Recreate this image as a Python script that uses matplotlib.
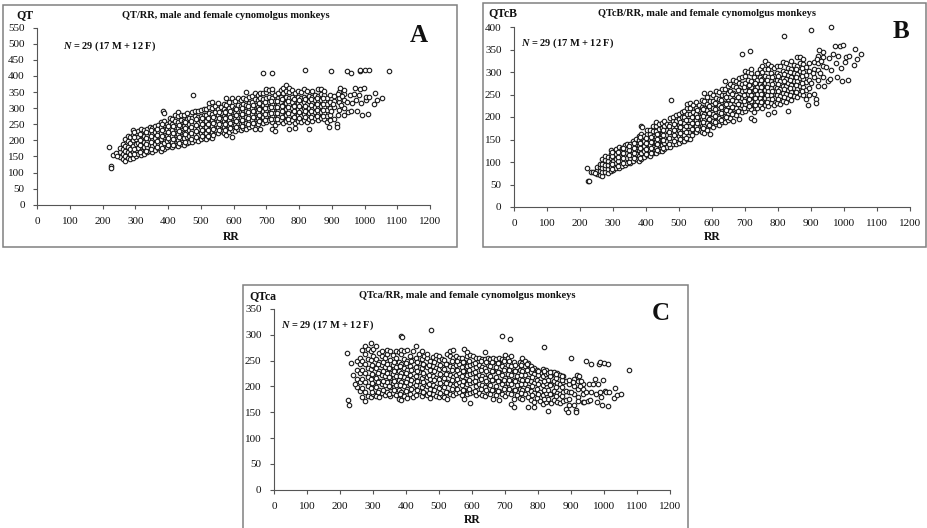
import numpy as np
import matplotlib
matplotlib.use('Agg')
import matplotlib.pyplot as plt
from matplotlib.patches import Rectangle

plt.rcParams['font.family'] = ['Liberation Serif', 'DejaVu Serif']

W, H = 927, 528

# RR columns shared by the three panels
rr_cols = [252, 261, 268, 277, 284, 293, 301, 309, 318, 326, 335, 343, 352, 361, 369, 378, 386, 395, 404,
           412, 421, 430, 438, 447, 456, 464, 473, 482, 490, 499, 508, 516, 525, 534, 542, 551, 560, 569,
           577, 586, 595, 604, 612, 621, 630, 639, 647, 656, 665, 674, 682, 691, 700, 709, 717, 726, 735,
           744, 752, 761, 770, 779, 788, 796, 805, 814, 823, 831, 840, 849, 858, 867, 876, 885]

qt_cols = [[148, 163, 176], [141, 157, 172, 189], [135, 150, 167, 183, 204], [146, 163, 178, 197, 215],
           [142, 158, 174, 192, 210], [146, 165, 181, 200, 218, 232], [152, 170, 188, 205, 224],
           [156, 175, 193, 211, 230], [153, 168, 186, 204, 222, 236], [159, 178, 196, 214, 232],
           [163, 180, 199, 217, 236], [167, 186, 204, 222, 241], [164, 183, 201, 220, 238],
           [170, 190, 208, 226, 244], [175, 193, 212, 230, 249], [168, 186, 205, 223, 242, 257],
           [172, 192, 210, 229, 247, 261], [178, 197, 215, 234, 252], [181, 200, 218, 237, 256, 270],
           [178, 196, 215, 233, 252, 266], [185, 205, 223, 242, 260, 278], [183, 201, 220, 238, 257, 275, 288],
           [189, 208, 226, 245, 263, 280], [187, 206, 224, 243, 261, 278], [192, 211, 229, 248, 266, 284],
           [196, 215, 233, 252, 270], [194, 213, 231, 250, 268, 287], [201, 220, 238, 257, 275, 290],
           [199, 218, 236, 255, 273, 292], [203, 222, 240, 259, 277, 293], [206, 225, 243, 262, 280, 296],
           [204, 223, 241, 260, 278, 297], [210, 229, 247, 266, 284, 303, 315], [208, 227, 245, 264, 282, 301, 318],
           [226, 233, 251, 270, 288, 307], [224, 242, 261, 279, 298, 316], [229, 248, 266, 285, 303],
           [222, 240, 259, 277, 296, 314], [216, 235, 254, 272, 291, 309, 333], [225, 244, 262, 281, 299, 318],
           [210, 232, 250, 269, 287, 306, 333], [228, 247, 265, 284, 302, 321], [236, 255, 273, 292, 310, 330],
           [232, 251, 269, 288, 306, 325], [238, 257, 275, 294, 312, 331], [236, 254, 273, 291, 310, 328, 350],
           [241, 260, 278, 297, 315, 334], [245, 264, 282, 301, 319, 338], [236, 255, 274, 292, 311, 329, 346],
           [250, 268, 287, 305, 324, 340], [236, 259, 277, 296, 314, 333, 346], [254, 272, 291, 309, 328, 347],
           [256, 275, 293, 312, 330, 349, 361], [262, 281, 299, 318, 336, 355], [234, 258, 277, 295, 314, 332, 351, 361],
           [228, 248, 266, 285, 303, 322, 340], [256, 274, 293, 311, 330, 348], [262, 281, 299, 318, 336, 355],
           [254, 272, 291, 309, 328, 346, 362], [260, 278, 297, 315, 334, 352, 372], [236, 256, 275, 293, 312, 330, 349, 362],
           [262, 281, 299, 318, 336, 355], [238, 254, 273, 291, 310, 328, 347], [260, 279, 297, 316, 334, 352],
           [256, 275, 293, 312, 330, 349], [262, 281, 299, 318, 336, 358], [258, 277, 295, 314, 332, 352],
           [234, 265, 284, 302, 321, 339], [260, 279, 297, 316, 334, 354], [268, 287, 305, 324, 342],
           [264, 283, 301, 320, 338, 360], [270, 288, 307, 325, 344, 358], [266, 285, 303, 322, 340, 352],
           [256, 275, 294, 312, 331]]

qtcb_cols = [[74, 82, 88], [72, 80, 88, 96], [70, 78, 87, 95, 106], [77, 86, 94, 104, 113],
             [76, 84, 93, 102, 112], [79, 89, 98, 108, 118, 126], [83, 93, 103, 112, 123],
             [87, 97, 107, 117, 128], [86, 95, 105, 115, 125, 133], [91, 102, 112, 122, 132],
             [94, 104, 115, 126, 137], [98, 109, 120, 130, 141], [97, 109, 119, 130, 141],
             [102, 114, 125, 136, 147], [106, 117, 129, 140, 151], [103, 114, 126, 137, 149, 158],
             [107, 119, 130, 142, 153, 162], [112, 124, 135, 147, 158], [115, 127, 139, 151, 163, 172],
             [114, 126, 138, 150, 162, 171], [120, 133, 145, 157, 169, 180], [120, 132, 144, 156, 169, 180, 189],
             [125, 138, 150, 162, 174, 185], [125, 138, 150, 163, 175, 186], [130, 142, 155, 167, 180, 192],
             [133, 146, 159, 172, 184], [133, 147, 159, 172, 184, 197], [139, 153, 165, 178, 191, 201],
             [139, 153, 165, 179, 191, 204], [143, 157, 169, 183, 196, 207], [147, 160, 173, 187, 200, 211],
             [146, 160, 173, 187, 200, 213], [152, 166, 179, 193, 206, 220, 228], [152, 166, 179, 193, 206, 220, 232],
             [166, 171, 185, 199, 212, 226], [166, 180, 194, 207, 221, 234], [171, 186, 199, 213, 227],
             [167, 181, 195, 209, 223, 237], [164, 179, 193, 207, 221, 235, 253], [172, 187, 201, 215, 229, 244],
             [162, 179, 193, 207, 221, 236, 254], [177, 192, 206, 221, 235, 249], [185, 199, 213, 228, 242, 258],
             [183, 198, 212, 227, 241, 256], [189, 204, 218, 233, 248, 263], [189, 203, 218, 232, 248, 262, 280],
             [194, 209, 224, 239, 253, 269], [198, 214, 228, 244, 258, 274], [192, 208, 223, 238, 253, 268, 282],
             [205, 220, 236, 250, 266, 279], [195, 214, 229, 244, 259, 275, 286], [211, 226, 242, 257, 273, 288],
             [214, 230, 245, 261, 276, 292, 302], [221, 237, 252, 268, 283, 299], [198, 218, 235, 250, 266, 281, 297, 306],
             [194, 211, 227, 243, 258, 274, 290], [219, 235, 251, 267, 283, 298], [226, 242, 258, 274, 290, 306],
             [220, 236, 252, 268, 284, 300, 314], [227, 242, 259, 275, 291, 307, 324], [207, 225, 241, 257, 274, 290, 306, 318],
             [231, 248, 264, 281, 297, 313], [211, 226, 242, 258, 275, 291, 308], [232, 249, 265, 282, 298, 314],
             [230, 247, 263, 280, 296, 313], [236, 253, 270, 287, 303, 323], [234, 251, 268, 285, 301, 319],
             [213, 242, 259, 275, 293, 309], [238, 256, 272, 290, 306, 325], [247, 264, 281, 298, 315],
             [244, 262, 279, 296, 313, 333], [251, 268, 286, 303, 320, 333], [249, 267, 284, 301, 318, 330],
             [241, 259, 277, 294, 311]]

qtca_cols = [[198, 215, 232, 250], [192, 208, 226, 244, 256], [180, 197, 214, 232, 250, 270],
             [172, 190, 208, 226, 244, 262, 278], [182, 200, 218, 236, 254, 272], [180, 197, 215, 233, 251, 268, 285],
             [186, 204, 222, 240, 258, 272], [181, 199, 217, 235, 253, 278], [180, 193, 211, 229, 247, 265],
             [187, 205, 223, 241, 259, 268], [184, 202, 220, 232, 238, 256], [190, 208, 226, 244, 262, 270],
             [181, 198, 216, 234, 252, 268], [188, 206, 224, 242, 260], [184, 202, 220, 238, 256, 269],
             [176, 194, 212, 230, 248, 266], [173, 190, 208, 226, 244, 262, 270], [182, 200, 218, 236, 254, 268],
             [178, 196, 214, 232, 250, 270], [186, 204, 222, 240, 258], [180, 198, 216, 234, 252, 268],
             [184, 202, 220, 238, 256, 278], [192, 210, 228, 246, 262], [181, 199, 217, 235, 253, 268],
             [187, 205, 223, 241, 259], [183, 201, 219, 237, 255, 262], [178, 196, 214, 232, 250],
             [185, 203, 221, 239, 257], [181, 199, 217, 235, 253, 260], [179, 197, 215, 233, 251, 258],
             [184, 202, 220, 238, 254], [180, 198, 216, 234, 252], [176, 190, 208, 226, 244, 262],
             [186, 204, 222, 240, 258, 268], [183, 201, 219, 237, 255, 270], [187, 205, 223, 241, 259],
             [190, 208, 226, 244, 256], [184, 202, 220, 238, 256], [175, 193, 211, 229, 247, 272],
             [186, 204, 222, 240, 258, 266], [168, 188, 206, 224, 242, 260], [190, 208, 226, 244, 258],
             [183, 201, 219, 237, 255], [187, 205, 223, 241, 256], [184, 202, 220, 238, 254],
             [181, 199, 217, 235, 253, 266], [188, 206, 224, 242, 255], [185, 203, 221, 239, 254],
             [176, 194, 212, 230, 248, 256], [183, 201, 219, 237, 253], [174, 192, 210, 228, 246, 256],
             [186, 204, 222, 240, 254], [181, 199, 217, 235, 253, 261], [188, 206, 224, 242, 256],
             [166, 186, 204, 222, 240, 258], [160, 176, 194, 212, 230, 248], [184, 202, 220, 238],
             [178, 196, 214, 232, 248], [176, 194, 212, 230, 246, 256], [186, 204, 222, 240, 250],
             [161, 180, 198, 216, 234, 246], [174, 192, 210, 228, 240], [160, 170, 188, 206, 224, 236],
             [177, 195, 213, 231], [172, 190, 208, 226], [166, 184, 202, 220, 234], [170, 188, 206, 224, 232],
             [152, 176, 194, 212, 226], [168, 186, 204, 222, 228], [174, 192, 210, 228], [170, 188, 206, 226],
             [168, 186, 204, 222], [172, 190, 208, 220], [156, 174, 192, 210]]

# more points between the columns above, the cloud is denser than one pass
extra_rr = [297, 314, 331, 348, 365, 382, 399, 416, 434, 451, 469, 486, 503, 521, 538, 555, 573, 590, 608, 626,
            643, 660, 678, 696, 713, 731, 748, 766, 783, 801, 819, 836, 854, 872, 893, 908, 922, 936]

qt_extra = [[156, 174, 209, 226], [163, 184, 202, 221], [168, 190, 208, 227], [172, 195, 213, 231], [179, 199, 217, 235],
            [177, 214, 232, 251], [187, 206, 225, 243], [187, 205, 224, 243], [192, 211, 229, 248], [196, 220, 238, 257],
            [204, 224, 242, 261], [210, 229, 247, 266], [213, 231, 250, 268], [213, 232, 250, 269], [218, 236, 255, 273],
            [233, 252, 270, 289], [231, 250, 268, 287], [237, 255, 274, 292], [241, 260, 278, 297], [245, 263, 282, 300],
            [250, 269, 287, 306], [255, 273, 292, 310], [259, 278, 296, 315], [263, 282, 300, 319], [267, 286, 304, 323],
            [266, 284, 303, 321], [271, 290, 308, 327], [267, 285, 304, 322], [271, 290, 308, 327], [269, 288, 306, 325],
            [271, 290, 308, 327], [272, 290, 309, 327], [276, 294, 313, 331], [276, 294, 313, 331], [280, 300, 320, 340],
            [265, 305, 322, 338], [295, 318, 332, 350], [300, 325, 345, 355]]

qtcb_extra = [[85, 95, 114, 122], [91, 102, 112, 122], [97, 110, 120, 131], [101, 115, 126, 136], [108, 120, 131, 142],
              [109, 132, 143, 155], [118, 130, 142, 153], [120, 132, 144, 156], [127, 139, 151, 163], [132, 148, 160, 172],
              [140, 153, 166, 179], [146, 160, 172, 185], [151, 164, 177, 190], [154, 167, 180, 194], [160, 173, 187, 200],
              [173, 187, 201, 215], [175, 189, 203, 217], [182, 196, 210, 224], [188, 203, 217, 232], [194, 208, 223, 238],
              [200, 216, 230, 245], [207, 222, 237, 252], [213, 229, 244, 259], [219, 235, 250, 266], [225, 241, 257, 272],
              [227, 243, 259, 275], [234, 251, 266, 283], [233, 249, 266, 282], [240, 257, 273, 289], [241, 258, 274, 291],
              [245, 262, 279, 296], [248, 265, 282, 299], [255, 272, 290, 306], [258, 275, 292, 310], [265, 283, 302, 320],
              [252, 290, 307, 322], [283, 305, 319, 336], [290, 314, 334, 344]]

qtca_extra = [[190, 206, 224, 242], [190, 208, 226, 244], [193, 211, 229, 247], [186, 200, 218, 236], [193, 211, 229, 247],
              [185, 203, 221, 239], [191, 209, 227, 245], [195, 213, 231, 249], [193, 211, 229, 247], [190, 208, 226, 244],
              [187, 205, 223, 241], [194, 212, 230, 248], [188, 206, 224, 242], [189, 207, 225, 243], [195, 213, 231, 249],
              [196, 214, 232, 250], [193, 211, 229, 247], [195, 213, 231, 249], [192, 210, 228, 246], [196, 214, 232, 250],
              [193, 211, 229, 247], [194, 212, 230, 248], [192, 210, 228, 246], [195, 213, 231, 249], [195, 213, 231, 249],
              [193, 211, 229, 241], [187, 205, 223, 241], [195, 213, 231, 243], [183, 201, 219, 233], [186, 204, 222, 230],
              [175, 193, 211, 229], [185, 203, 221, 228], [181, 199, 217, 225], [181, 199, 213, 220], [175, 190, 205, 212],
              [165, 185, 200, 215], [180, 195, 210, 218], [170, 185, 195, 205]]

# outliers and the sparse long-RR tail
tail_rr = [220, 225, 226, 232, 240, 245, 385, 387, 477, 690, 716, 817, 899, 945, 960, 986, 987, 1000, 1013, 1075,
           890, 893, 899, 905, 915, 915, 918, 920, 925, 928, 930, 938, 945, 950, 955, 958, 962, 968, 972, 975,
           978, 982, 987, 990, 993, 998, 1003, 1005, 1012, 1014, 1030, 1033, 1038, 1053]
tail_qt = [180, 120, 115, 155, 162, 150, 290, 285, 342, 408, 408, 420, 415, 415, 410, 415, 420, 420, 420, 415,
           240, 262, 290, 312, 250, 242, 345, 280, 362, 310, 338, 280, 320, 288, 340, 292, 315, 345, 362, 325,
           290, 340, 360, 315, 280, 362, 325, 334, 282, 334, 312, 347, 325, 333]
tail_qtcb = [87, 58, 57, 78, 78, 75, 180, 177, 237, 339, 346, 381, 393, 404, 400, 412, 417, 420, 423, 430,
             226, 250, 275, 297, 240, 232, 330, 268, 348, 298, 325, 270, 312, 280, 332, 285, 305, 340, 358, 320,
             288, 335, 358, 310, 280, 361, 323, 333, 283, 335, 315, 352, 330, 340]
tail_qtca = [264, 173, 165, 246, 222, 205, 298, 295, 310, 298, 291, 277, 256, 250, 243, 243, 248, 245, 243, 231,
             151, 165, 190, 208, 155, 150, 222, 172, 220, 200, 210, 170, 190, 172, 205, 173, 190, 205, 215, 185,
             170, 205, 190, 180, 165, 212, 192, 190, 163, 190, 178, 197, 184, 186]

x_ticks = [0, 100, 200, 300, 400, 500, 600, 700, 800, 900, 1000, 1100, 1200]
a_yticks = [0, 50, 100, 150, 200, 250, 300, 350, 400, 450, 500, 550]
b_yticks = [0, 50, 100, 150, 200, 250, 300, 350, 400]
c_yticks = [0, 50, 100, 150, 200, 250, 300, 350]


def px(x, y):
    return x / W, 1 - y / H


def panel(fig, box, plot_box, cols, extra, tail, yticks, ylab, title, letter, pos):
    # box and plot_box are left, top, right, bottom in pixels
    l, t, r, b = box
    fig.add_artist(Rectangle(px(l, b), (r - l) / W, (b - t) / H, transform=fig.transFigure,
                             fill=False, ec='#808080', lw=1.1))
    l, t, r, b = plot_box
    ax = fig.add_axes([l / W, 1 - b / H, (r - l) / W, (b - t) / H])
    xs = [x for x, c in zip(rr_cols, cols) for _ in c] + [x for x, c in zip(extra_rr, extra) for _ in c] + tail_rr
    ys = [v for c in cols for v in c] + [v for c in extra for v in c] + tail
    xs, ys = np.array(xs), np.array(ys)
    keep = ys <= yticks[-1]
    ax.scatter(xs[keep], ys[keep], s=10.5, facecolor='white', edgecolor='#1a1a1a', linewidth=0.8,
               clip_on=False, zorder=3)
    ax.set_xlim(0, 1200)
    ax.set_ylim(0, yticks[-1])
    ax.set_xticks(x_ticks)
    ax.set_yticks(yticks)
    ax.spines['top'].set_visible(False)
    ax.spines['right'].set_visible(False)
    ax.spines['left'].set_color('#555555')
    ax.spines['bottom'].set_color('#555555')
    ax.tick_params(length=3, width=0.8, color='#555555', labelsize=8, pad=6, labelcolor='#111111')
    ax.patch.set_alpha(0)
    for name, txt, size, ha in [('ylab', ylab, 8.5, 'center'), ('title', title, 7.5, 'center'),
                                ('n', '$\\mathbfit{N}$ = 29 (17 M + 12 F)', 7.5, 'left'),
                                ('letter', letter, 18, 'center'), ('rr', 'RR', 8.5, 'center')]:
        x, y = pos[name]
        fx, fy = px(x, y)
        fig.text(fx, fy, txt, fontsize=size, fontweight='bold', ha=ha, va='center', color='#111111')
    return ax


plt.rcParams['mathtext.fontset'] = 'custom'
plt.rcParams['mathtext.bfit'] = 'Liberation Serif:italic:bold'

fig = plt.figure(figsize=(W / 100, H / 100), dpi=100)

panel(fig, (3, 5, 457, 247), (37.3, 27.7, 430, 204.7), qt_cols, qt_extra, tail_qt, a_yticks, 'QT',
      'QT/RR, male and female cynomolgus monkeys', 'A',
      {'ylab': (25, 15), 'title': (226, 16), 'n': (63, 46), 'letter': (419, 36), 'rr': (231, 237)})
panel(fig, (483, 3, 926, 247), (514, 27, 910, 207), qtcb_cols, qtcb_extra, tail_qtcb, b_yticks, 'QTcB',
      'QTcB/RR, male and female cynomolgus monkeys', 'B',
      {'ylab': (503, 13), 'title': (707, 14), 'n': (521, 43), 'letter': (901, 31), 'rr': (712, 237)})
panel(fig, (243, 285, 688, 540), (274, 309, 670, 489.7), qtca_cols, qtca_extra, tail_qtca, c_yticks, 'QTca',
      'QTca/RR, male and female cynomolgus monkeys', 'C',
      {'ylab': (263, 296), 'title': (467, 296), 'n': (281, 325), 'letter': (661, 313), 'rr': (472, 520)})

fig.savefig('out.png', dpi=100)
